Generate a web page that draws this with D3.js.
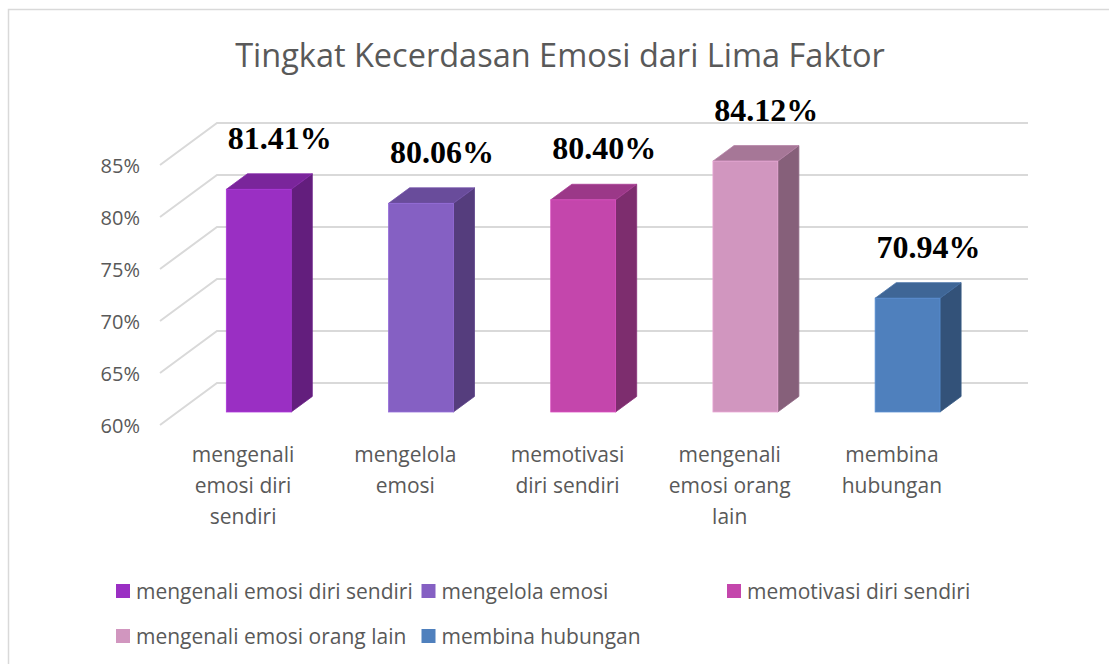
<!DOCTYPE html>
<html>
<head>
<meta charset="utf-8">
<script src="https://cdn.jsdelivr.net/npm/d3@7"></script>
<style>
  html, body { margin: 0; padding: 0; background: #fff; }
  svg { display: block; }
</style>
</head>
<body>
<svg id="chart" width="1109" height="664"></svg>
<script>
const title = "Tingkat Kecerdasan Emosi dari Lima Faktor";
const categories = [
  "mengenali emosi diri sendiri",
  "mengelola emosi",
  "memotivasi diri sendiri",
  "mengenali emosi orang lain",
  "membina hubungan"
];
const values = [81.41, 80.06, 80.40, 84.12, 70.94];
const yTicks = [60, 65, 70, 75, 80, 85];
const colors = ["#9a2fc3", "#8560c3", "#c446ac", "#d196bf", "#4f80bd"];

const svg = d3.select("#chart");
const textColor = "#595959";
const font = "'Open Sans', 'Noto Sans', sans-serif";

// frame
svg.append("rect")
  .attr("x", 8.5).attr("y", 9.5).attr("width", 1200).attr("height", 700)
  .attr("fill", "#fff").attr("stroke", "#d9d9d9").attr("stroke-width", 1.5);

// title
svg.append("text")
  .attr("x", 560).attr("y", 67)
  .attr("text-anchor", "middle")
  .attr("font-family", font).attr("font-size", 32.5)
  .attr("fill", textColor)
  .text(title);

// 3D geometry
const depth = { dx: 57, dy: -42 };
const t0 = 0.31, t1 = 0.68;
const x = d3.scaleBand().domain(categories).range([160, 971]).paddingInner(0).paddingOuter(0);
const y = d3.scaleLinear().domain([60, 85]).range([425, 165]);
const proj = (xv, yv, t) => [xv + t * depth.dx, yv + t * depth.dy];
const bw = x.bandwidth();
const barW = 0.4 * bw;

// gridlines (side wall diagonal + back wall)
const grid = svg.append("g");
yTicks.forEach(t => {
  const a = proj(x.range()[0], y(t), 0);
  const b = proj(x.range()[0], y(t), 1);
  const c = proj(x.range()[1], y(t), 1);
  grid.append("polyline")
    .attr("points", [a, b, c].map(p => p.join(",")).join(" "))
    .attr("fill", "none").attr("stroke", "#d9d9d9").attr("stroke-width", 2);
});

// y tick labels
svg.append("g").selectAll("text").data(yTicks).join("text")
  .attr("x", 140).attr("y", d => y(d))
  .attr("text-anchor", "end").attr("dominant-baseline", "central")
  .attr("font-family", font).attr("font-size", 20)
  .attr("fill", textColor)
  .text(d => d + "%");

// bars
const bars = svg.append("g");
categories.forEach((c, i) => {
  const v = values[i];
  const col = d3.color(colors[i]);
  const xl = x(c) + (bw - barW) / 2;
  const xr = xl + barW;
  const yt = y(v), yb = y(yTicks[0]);
  const poly = pts => pts.map(p => p.join(",")).join(" ");
  // side
  bars.append("polygon")
    .attr("points", poly([proj(xr, yt, t0), proj(xr, yt, t1), proj(xr, yb, t1), proj(xr, yb, t0)]))
    .attr("fill", col.darker(1.25)).attr("stroke", col.darker(1.0)).attr("stroke-width", 0.8);
  // top
  bars.append("polygon")
    .attr("points", poly([proj(xl, yt, t0), proj(xr, yt, t0), proj(xr, yt, t1), proj(xl, yt, t1)]))
    .attr("fill", col.darker(0.65)).attr("stroke", col.darker(0.4)).attr("stroke-width", 0.8);
  // front
  const f0 = proj(xl, yt, t0), f1 = proj(xr, yb, t0);
  bars.append("rect")
    .attr("x", f0[0]).attr("y", f0[1]).attr("width", f1[0] - f0[0]).attr("height", f1[1] - f0[1])
    .attr("fill", col).attr("stroke", col.brighter(0.3)).attr("stroke-width", 0.8);
});

// value labels
svg.append("g").selectAll("text").data(categories).join("text")
  .attr("x", (c) => x(c) + bw / 2 + t0 * depth.dx + 21)
  .attr("y", (c, i) => y(values[i]) + t1 * depth.dy - 25)
  .attr("text-anchor", "middle")
  .attr("font-family", "'Liberation Serif', 'Times New Roman', serif")
  .attr("font-weight", "bold").attr("font-size", 32)
  .attr("fill", "#000")
  .text((c, i) => d3.format(".2f")(values[i]) + "%");

// category labels with wrapping
const catFont = 21;
const measure = svg.append("text").attr("font-family", font).attr("font-size", catFont).attr("visibility", "hidden");
function textWidth(s) { measure.text(s); return measure.node().getComputedTextLength(); }
function wrap(s, maxW) {
  const words = s.split(" ");
  const lines = [];
  let cur = "";
  words.forEach(w => {
    const test = cur ? cur + " " + w : w;
    if (cur && textWidth(test) > maxW) { lines.push(cur); cur = w; }
    else cur = test;
  });
  if (cur) lines.push(cur);
  return lines;
}
const catG = svg.append("g");
categories.forEach(c => {
  const lines = wrap(c, 0.8 * bw);
  const t = catG.append("text")
    .attr("text-anchor", "middle")
    .attr("font-family", font).attr("font-size", catFont)
    .attr("fill", textColor);
  lines.forEach((ln, k) => {
    t.append("tspan").attr("x", x(c) + bw / 2 + 2).attr("y", 462 + k * 31).text(ln);
  });
});
measure.remove();

// legend
const leg = svg.append("g");
categories.forEach((c, i) => {
  const col = i % 3, row = Math.floor(i / 3);
  const lx = 116 + col * 305.5, ly = 584 + row * 45;
  leg.append("rect").attr("x", lx).attr("y", ly).attr("width", 14).attr("height", 14).attr("fill", colors[i]);
  leg.append("text")
    .attr("x", lx + 20).attr("y", ly + 7)
    .attr("dominant-baseline", "central")
    .attr("font-family", font).attr("font-size", 21)
    .attr("fill", textColor)
    .text(c);
});
</script>
</body>
</html>
